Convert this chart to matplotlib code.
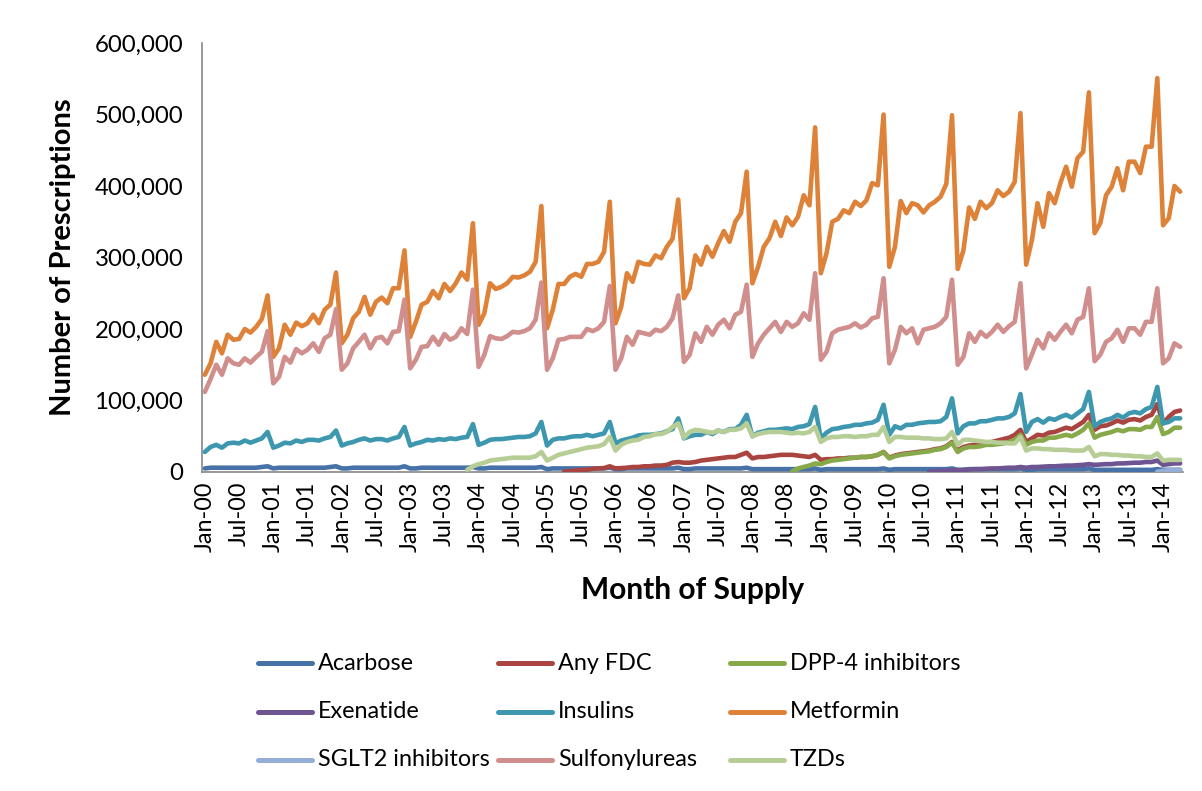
import numpy as np
import matplotlib
matplotlib.use("Agg")
import matplotlib.pyplot as plt
from matplotlib.lines import Line2D
from matplotlib.ticker import FuncFormatter, FixedLocator
import pandas as pd

nan = np.nan

# ---- categories: monthly, Jan-00 .. Apr-14 ----
months = pd.date_range("2000-01-01", "2014-04-01", freq="MS").strftime("%b-%y").tolist()

# ---- series values (thousands of prescriptions) ----
acarbose = [
    5, 6, 6, 6, 6, 6, 6, 6, 6, 6, 7, 8,
    5, 6, 6, 6, 6, 6, 6, 6, 6, 6, 7, 8,
    5, 5, 6, 6, 6, 6, 6, 6, 6, 6, 6, 8,
    5, 5, 6, 6, 6, 6, 6, 6, 6, 6, 6, 7,
    5, 5, 6, 6, 6, 6, 6, 6, 6, 6, 6, 7,
    4, 5, 5, 5, 5, 5, 5, 5, 5, 5, 5, 6,
    4, 4, 5, 5, 5, 5, 5, 5, 5, 5, 5, 6,
    4, 4, 5, 5, 5, 5, 5, 5, 5, 5, 5, 6,
    4, 4, 4, 4, 4, 4, 4, 4, 4, 4, 4, 5,
    3, 4, 4, 4, 4, 4, 4, 4, 4, 4, 4, 5,
    3, 4, 4, 4, 4, 4, 4, 4, 4, 4, 4, 5,
    3, 3, 4, 4, 4, 4, 4, 4, 4, 4, 4, 5,
    3, 3, 4, 4, 4, 4, 4, 4, 4, 4, 4, 5,
    3, 3, 3, 3, 3, 3, 3, 3, 3, 3, 3, 4,
    3, 3, 3, 3,
]

any_fdc = [nan] * 63 + [
    0.5, 1, 2, 3, 3, 4.5, 5, 5.5, 8,
    5, 5.5, 6, 7, 7, 8, 8, 9, 9, 10, 13, 14,
    13, 13, 14, 16, 17, 18, 19, 20, 21, 21, 24, 27,
    19, 21, 21, 22, 23, 24, 24, 24, 23, 22, 21, 24,
    17, 18, 18, 19, 19, 20, 20, 21, 21, 22, 24, 28,
    20, 23, 25, 26, 27, 28, 29, 30, 32, 33, 36, 42,
    30, 35, 37, 38, 39, 41, 42, 44, 46, 48, 52, 59,
    42, 47, 52, 51, 55, 56, 59, 62, 60, 65, 70, 80,
    59, 64, 65, 68, 72, 69, 73, 74, 72, 77, 80, 95,
    68, 77, 84, 86,
]

dpp4 = [nan] * 103 + [
    1, 5, 7, 9, 12,
    11, 14, 16, 17, 18, 19, 20, 21, 21, 22, 24, 28,
    19, 22, 24, 25, 26, 27, 28, 29, 31, 32, 35, 41,
    28, 33, 35, 35, 36, 38, 38, 39, 40, 42, 45, 52,
    38, 42, 44, 44, 48, 48, 50, 52, 50, 54, 59, 68,
    48, 52, 54, 56, 59, 57, 60, 60, 59, 63, 63, 77,
    53, 56, 62, 62,
]

exenatide = [nan] * 127 + [
    0.5, 1, 1.5, 2, 2.5,
    2.5, 3, 3.5, 4, 4, 4.5, 5, 5, 5.5, 6, 6, 7,
    6, 7, 7, 7.5, 8, 8, 8.5, 9, 9, 9.5, 10, 11,
    10, 10.5, 11, 11, 12, 12, 12.5, 13, 13, 14, 14, 16,
    10, 11, 12, 12,
]

insulins = [
    28, 35, 38, 34, 40, 41, 40, 44, 41, 44, 47, 56,
    34, 37, 41, 40, 44, 42, 45, 45, 44, 47, 49, 58,
    37, 40, 42, 45, 47, 44, 46, 46, 44, 47, 49, 63,
    37, 40, 42, 45, 44, 46, 45, 47, 46, 48, 49, 67,
    38, 41, 45, 46, 46, 47, 48, 49, 49, 50, 54, 70,
    37, 45, 47, 47, 49, 50, 50, 52, 50, 52, 54, 70,
    40, 44, 46, 48, 51, 52, 52, 53, 54, 57, 60, 75,
    47, 50, 52, 52, 56, 53, 58, 56, 60, 60, 66, 80,
    50, 55, 57, 59, 59, 60, 61, 60, 63, 64, 67, 91,
    47, 55, 60, 61, 63, 64, 66, 66, 68, 69, 73, 94,
    52, 64, 61, 66, 66, 68, 69, 70, 70, 71, 77, 103,
    54, 64, 68, 68, 71, 71, 73, 75, 75, 77, 82, 109,
    56, 70, 74, 69, 75, 73, 77, 80, 76, 82, 88, 112,
    64, 70, 73, 75, 80, 76, 82, 84, 82, 88, 91, 119,
    68, 70, 75, 75,
]

metformin = [
    136, 152, 182, 166, 192, 185, 186, 200, 195, 203, 214, 247,
    161, 173, 206, 192, 209, 204, 208, 220, 208, 227, 234, 279,
    180, 192, 215, 224, 245, 220, 238, 244, 236, 257, 257, 310,
    189, 210, 234, 238, 253, 243, 263, 253, 264, 279, 269, 348,
    206, 222, 264, 256, 259, 264, 273, 272, 275, 280, 294, 372,
    201, 227, 263, 263, 273, 277, 273, 291, 291, 294, 308, 378,
    208, 231, 278, 266, 294, 291, 290, 303, 299, 315, 326, 381,
    243, 257, 303, 290, 315, 301, 320, 337, 322, 350, 362, 420,
    264, 287, 315, 327, 350, 330, 356, 345, 357, 387, 373, 482,
    278, 306, 350, 354, 366, 362, 378, 372, 380, 404, 401, 500,
    287, 315, 379, 362, 376, 373, 363, 373, 378, 385, 403, 499,
    284, 310, 370, 354, 378, 369, 376, 394, 386, 392, 406, 502,
    290, 324, 376, 343, 390, 376, 404, 427, 399, 439, 448, 531,
    334, 348, 387, 399, 425, 394, 434, 434, 418, 455, 455, 551,
    345, 355, 400, 392,
]

sglt2 = [nan] * 167 + [0.5, 1.5, 2.5, 3, 3]

sulfonylureas = [
    112, 130, 150, 136, 159, 152, 150, 159, 153, 161, 168, 197,
    124, 133, 161, 153, 172, 166, 171, 180, 168, 187, 192, 228,
    143, 152, 173, 182, 192, 173, 187, 189, 180, 196, 197, 241,
    145, 157, 175, 176, 189, 178, 193, 185, 189, 201, 193, 255,
    147, 164, 190, 187, 186, 190, 196, 195, 197, 201, 213, 265,
    143, 159, 185, 186, 189, 189, 189, 200, 197, 201, 210, 260,
    143, 159, 189, 178, 196, 194, 192, 199, 197, 203, 215, 247,
    154, 164, 194, 182, 203, 192, 206, 213, 201, 220, 224, 262,
    161, 180, 192, 201, 210, 196, 210, 203, 208, 222, 213, 278,
    157, 168, 194, 199, 201, 203, 208, 202, 206, 215, 217, 271,
    152, 171, 203, 194, 201, 180, 199, 201, 203, 208, 217, 269,
    150, 161, 194, 182, 196, 189, 196, 206, 196, 204, 210, 264,
    145, 164, 185, 173, 194, 185, 196, 206, 194, 213, 217, 257,
    155, 164, 182, 187, 199, 182, 201, 201, 192, 210, 210, 257,
    152, 159, 180, 175,
]

tzds = [nan] * 46 + [
    3, 8,
    11, 13, 16, 17, 18, 19, 20, 20, 20, 20, 22, 28,
    16, 20, 24, 26, 28, 30, 32, 34, 35, 36, 39, 49,
    30, 38, 42, 44, 45, 49, 50, 53, 53, 56, 63, 68,
    48, 56, 59, 58, 56, 55, 58, 56, 59, 59, 61, 68,
    50, 53, 55, 56, 56, 56, 55, 54, 55, 54, 56, 63,
    42, 47, 49, 49, 50, 50, 49, 50, 50, 52, 52, 63,
    42, 49, 49, 48, 48, 48, 47, 47, 46, 46, 47, 56,
    38, 45, 45, 44, 43, 42, 42, 41, 41, 40, 40, 49,
    30, 33, 33, 32, 32, 31, 31, 31, 30, 30, 30, 35,
    22, 25, 25, 24, 24, 23, 23, 22, 22, 21, 21, 26,
    16, 17, 17, 17,
]

series_names = ["Acarbose", "Any FDC", "DPP-4 inhibitors", "Exenatide", "Insulins",
                "Metformin", "SGLT2 inhibitors", "Sulfonylureas", "TZDs"]
series_values = [acarbose, any_fdc, dpp4, exenatide, insulins,
                 metformin, sglt2, sulfonylureas, tzds]
series_colors = ["#4672A8", "#AA4441", "#87A94A", "#6E5592", "#3D98AF",
                 "#DD8238", "#94AED5", "#D08E8D", "#B6CD96"]

FONT = ["Lato", "DejaVu Sans"]
plt.rcParams["font.family"] = FONT

W, H = 1202, 791
fig = plt.figure(figsize=(W / 100, H / 100), dpi=100)
fig.patch.set_facecolor("white")

ax_left, ax_right, ax_top, ax_bottom = 202, 1183, 43, 472
ax = fig.add_axes([ax_left / W, 1 - ax_bottom / H,
                   (ax_right - ax_left) / W, (ax_bottom - ax_top) / H])

x = np.arange(len(months))
for name, vals, col in zip(series_names, series_values, series_colors):
    assert len(vals) == len(months), name
    y = np.array(vals, dtype=float) * 1000
    ax.plot(x, y, color=col, lw=3.3, solid_joinstyle="round",
            solid_capstyle="round", label=name, zorder=3)

ax.set_xlim(-0.5, len(months) - 0.5)
ax.set_ylim(0, 600000)

for s in ["top", "right"]:
    ax.spines[s].set_visible(False)
for s in ["left", "bottom"]:
    ax.spines[s].set_color("#868686")
    ax.spines[s].set_linewidth(1.2)
    ax.spines[s].set_zorder(2)

ax.yaxis.set_major_locator(FixedLocator(np.arange(0, 600001, 100000)))
ax.yaxis.set_major_formatter(FuncFormatter(lambda v, p: f"{int(v):,}"))
tick_idx = list(range(0, len(months), 6))
ax.set_xticks(tick_idx)
ax.set_xticklabels([months[i] for i in tick_idx], rotation=90)
ax.tick_params(axis="y", length=0, pad=13.5, labelsize=17.3, labelcolor="black")
ax.tick_params(axis="x", length=0, pad=7, labelsize=16.8, labelcolor="black")

fig.text(63 / W, 1 - 257 / H, "Number of Prescriptions", rotation=90,
         ha="center", va="center", fontsize=21, fontweight="bold")
fig.text(693 / W, 1 - 590 / H, "Month of Supply",
         ha="center", va="center", fontsize=21.5, fontweight="bold")

# legend laid out as in the original (3 columns, row-wise order)
col_x = [258, 498, 730]
row_y = [663, 712, 760]
for k, (name, col) in enumerate(zip(series_names, series_colors)):
    r, c = divmod(k, 3)
    x0 = col_x[c]
    yy = 1 - row_y[r] / H
    fig.add_artist(Line2D([x0 / W, (x0 + 54) / W], [yy, yy], color=col, lw=3.6,
                          solid_capstyle="round", transform=fig.transFigure))
    fig.text((x0 + 60) / W, yy, name, ha="left", va="center", fontsize=16.8)

fig.savefig("out.png", dpi=100, facecolor="white")
